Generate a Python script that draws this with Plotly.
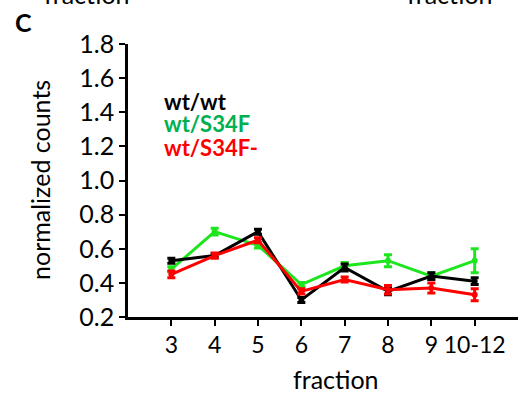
import plotly.graph_objects as go

fractions = ["3", "4", "5", "6", "7", "8", "9", "10-12"]
wt_wt = [0.53, 0.56, 0.70, 0.30, 0.49, 0.35, 0.44, 0.41]
wt_wt_err = [0.015, 0.012, 0.015, 0.015, 0.02, 0.02, 0.02, 0.02]
wt_s34f = [0.48, 0.70, 0.62, 0.39, 0.50, 0.53, 0.44, 0.53]
wt_s34f_err = [0.015, 0.02, 0.015, 0.012, 0.02, 0.035, 0.02, 0.07]
wt_s34f_minus = [0.45, 0.56, 0.65, 0.35, 0.42, 0.36, 0.37, 0.33]
wt_s34f_minus_err = [0.02, 0.015, 0.015, 0.015, 0.015, 0.025, 0.03, 0.035]

series = [
    ("wt/S34F", wt_s34f, wt_s34f_err, "#1ee61e"),
    ("wt/wt", wt_wt, wt_wt_err, "#000000"),
    ("wt/S34F-", wt_s34f_minus, wt_s34f_minus_err, "#ff0000"),
]

font = "Lato"
fig = go.Figure()
for name, vals, errs, col in series:
    fig.add_trace(go.Scatter(
        x=fractions, y=vals, name=name, mode="lines+markers",
        line=dict(color=col, width=3),
        marker=dict(color=col, size=6),
        error_y=dict(type="data", array=errs, visible=True, color=col, thickness=3, width=4),
        showlegend=False,
    ))

fig.update_layout(
    width=527, height=394,
    margin=dict(l=128, r=9, t=44, b=77),
    paper_bgcolor="white", plot_bgcolor="white",
    font=dict(family=font, color="black", size=18),
    xaxis=dict(
        type="category", range=[-1, 8], showgrid=False, zeroline=False,
        showline=True, linecolor="black", linewidth=2.5,
        ticks="outside", ticklen=6, tickwidth=2, tickcolor="black",
        tickfont=dict(size=23, family=font),
    ),
    yaxis=dict(
        range=[0.2, 1.8], tickvals=[0.2, 0.4, 0.6, 0.8, 1.0, 1.2, 1.4, 1.6, 1.8],
        ticktext=["0.2", "0.4", "0.6", "0.8", "1.0", "1.2", "1.4", "1.6", "1.8"],
        showgrid=False, zeroline=False,
        showline=True, linecolor="black", linewidth=2.5,
        ticks="outside", ticklen=6, tickwidth=2, tickcolor="black",
        tickfont=dict(size=25, family=font),
    ),
)

def px_x(px):
    return (px - 128) / 390

def px_y(py):
    return (317 - py) / 273

annos = [
    dict(text="<b>wt/wt</b>", x=px_x(162), y=px_y(101), color="black", size=22, xa="left"),
    dict(text="<b>wt/S34F</b>", x=px_x(162), y=px_y(124), color="#00b050", size=22, xa="left"),
    dict(text="<b>wt/S34F-</b>", x=px_x(162), y=px_y(147), color="#ff0000", size=22, xa="left"),
    dict(text="fraction", x=px_x(336), y=px_y(379), color="black", size=25, xa="center"),
    dict(text="<b>C</b>", x=px_x(23), y=px_y(22), color="black", size=25, xa="center"),
    dict(text="fraction", x=px_x(87), y=px_y(-6), color="black", size=25, xa="center"),
    dict(text="fraction", x=px_x(450), y=px_y(-6), color="black", size=25, xa="center"),
]
for a in annos:
    fig.add_annotation(
        text=a["text"], x=a["x"], y=a["y"], xref="paper", yref="paper",
        xanchor=a["xa"], yanchor="middle", showarrow=False,
        font=dict(color=a["color"], size=a["size"], family=font),
    )

fig.add_annotation(
    text="normalized counts", x=px_x(40), y=px_y(180), xref="paper", yref="paper",
    xanchor="center", yanchor="middle", showarrow=False, textangle=-90,
    font=dict(color="black", size=25, family=font),
)

fig.write_html("out.html")
